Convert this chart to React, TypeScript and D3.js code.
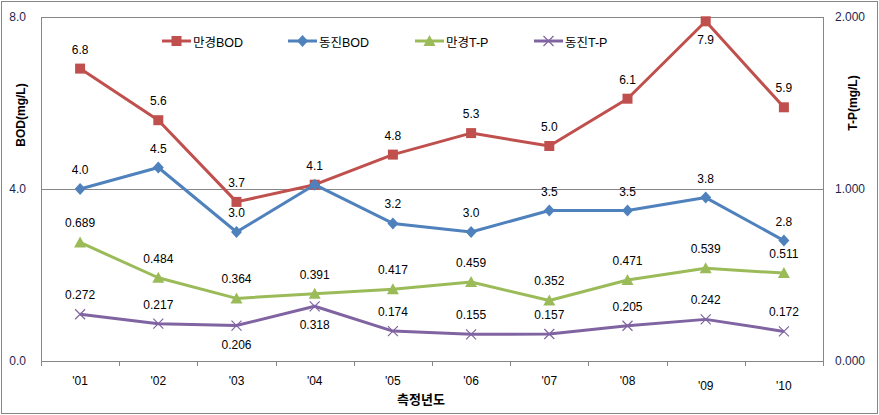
import React from "react";
import * as d3 from "d3";

const categories = ["'01", "'02", "'03", "'04", "'05", "'06", "'07", "'08", "'09", "'10"];
const mangyeongBOD = [6.8, 5.6, 3.7, 4.1, 4.8, 5.3, 5.0, 6.1, 7.9, 5.9];
const dongjinBOD = [4.0, 4.5, 3.0, 4.1, 3.2, 3.0, 3.5, 3.5, 3.8, 2.8];
const mangyeongTP = [0.689, 0.484, 0.364, 0.391, 0.417, 0.459, 0.352, 0.471, 0.539, 0.511];
const dongjinTP = [0.272, 0.217, 0.206, 0.318, 0.174, 0.155, 0.157, 0.205, 0.242, 0.172];
const leftTicks = [0, 4, 8];
const rightTicks = [0, 1, 2];
const seriesNames = ["만경BOD", "동진BOD", "만경T-P", "동진T-P"];

const W = 879;
const H = 415;
const PL = 41, PR = 823, PT = 17, PB = 361;
const FONT = "'Liberation Sans', Arial, 'Noto Sans CJK KR', sans-serif";

function Marker({ type, x, y, color }: { type: string; x: number; y: number; color: string }) {
  if (type === "square") return <rect x={x - 5} y={y - 5} width={10} height={10} fill={color} />;
  if (type === "diamond")
    return <path d={`M${x},${y - 6}L${x + 5.5},${y}L${x},${y + 6}L${x - 5.5},${y}Z`} fill={color} />;
  if (type === "triangle")
    return <path d={`M${x},${y - 6}L${x + 6},${y + 5}L${x - 6},${y + 5}Z`} fill={color} />;
  return (
    <path d={`M${x - 5},${y - 5}L${x + 5},${y + 5}M${x - 5},${y + 5}L${x + 5},${y - 5}`} stroke={color} strokeWidth={1.2} fill="none" />
  );
}

export default function App() {
  const x = d3.scaleBand<string>().domain(categories).range([PL, PR]).padding(0);
  const cx = (c: string) => (x(c) as number) + x.bandwidth() / 2;
  const yL = d3.scaleLinear().domain([0, 8]).range([PB, PT]);
  const yR = d3.scaleLinear().domain([0, 2]).range([PB, PT]);

  const series = [
    { name: seriesNames[0], data: mangyeongBOD, scale: yL, color: "#C0504D", marker: "square", fmt: d3.format(".1f"), below: [8] },
    { name: seriesNames[1], data: dongjinBOD, scale: yL, color: "#4F81BD", marker: "diamond", fmt: d3.format(".1f"), below: [] as number[] },
    { name: seriesNames[2], data: mangyeongTP, scale: yR, color: "#9BBB59", marker: "triangle", fmt: d3.format(".3f"), below: [] as number[] },
    { name: seriesNames[3], data: dongjinTP, scale: yR, color: "#8064A2", marker: "x", fmt: d3.format(".3f"), below: [2, 3] },
  ];

  const legendX = [162, 288, 415, 534];
  const boundaries = d3.range(categories.length + 1).map((i) => PL + i * x.bandwidth());

  return (
    <svg width={W} height={H} style={{ position: "absolute", left: 0, top: 0, fontFamily: FONT }}>
      <rect x={0} y={0} width={W} height={H} fill="#fff" />
      <rect x={1.5} y={1.5} width={876} height={412} fill="none" stroke="#868686" strokeWidth={1} />
      <line x1={PL} x2={PR} y1={Math.round(yL(4)) + 0.5} y2={Math.round(yL(4)) + 0.5} stroke="#868686" />
      <rect x={PL + 0.5} y={PT + 0.5} width={PR - PL} height={PB - PT} fill="none" stroke="#868686" />
      {boundaries.map((b, i) => (
        <line key={i} x1={Math.round(b) + 0.5} x2={Math.round(b) + 0.5} y1={PB} y2={PB + 5} stroke="#868686" />
      ))}
      {leftTicks.map((t) => (
        <text key={t} x={26} y={yL(t)} textAnchor="end" dominantBaseline="central" fontSize={12} fill="#1F1F4F">
          {d3.format(".1f")(t)}
        </text>
      ))}
      {rightTicks.map((t) => (
        <text key={t} x={835} y={yR(t)} textAnchor="start" dominantBaseline="central" fontSize={12} fill="#1F1F4F">
          {d3.format(".3f")(t)}
        </text>
      ))}
      <text transform={`translate(21,115) rotate(-90)`} textAnchor="middle" dominantBaseline="central" fontSize={12} fontWeight="bold">
        BOD(mg/L)
      </text>
      <text transform={`translate(853,103) rotate(-90)`} textAnchor="middle" dominantBaseline="central" fontSize={12} fontWeight="bold">
        T-P(mg/L)
      </text>
      {categories.map((c, i) => (
        <text key={c} x={cx(c)} y={i >= 8 ? 386 : 381} textAnchor="middle" dominantBaseline="central" fontSize={12} fill="#000">
          {c}
        </text>
      ))}
      <text x={421} y={399} textAnchor="middle" dominantBaseline="central" fontSize={13} fontWeight="bold">
        측정년도
      </text>
      {series.map((s) => {
        const line = d3
          .line<number>()
          .x((_, i) => cx(categories[i]))
          .y((d) => s.scale(d));
        return (
          <g key={s.name}>
            <path d={line(s.data) || ""} fill="none" stroke={s.color} strokeWidth={3} strokeLinejoin="round" />
            {s.data.map((d, i) => (
              <Marker key={i} type={s.marker} x={cx(categories[i])} y={s.scale(d)} color={s.color} />
            ))}
          </g>
        );
      })}
      {series.map((s, si) => (
        <g key={s.name + "-lbl"}>
          {s.data.map((d, i) =>
            si === 1 && i === 3 ? null : (
              <text
                key={i}
                x={cx(categories[i])}
                y={s.scale(d) + (s.below.includes(i) ? 19 : -19)}
                textAnchor="middle"
                dominantBaseline="central"
                fontSize={12}
                fill="#000"
              >
                {s.fmt(d)}
              </text>
            )
          )}
        </g>
      ))}
      {series.map((s, i) => (
        <g key={s.name + "-leg"}>
          <line x1={legendX[i]} x2={legendX[i] + 29} y1={41} y2={41} stroke={s.color} strokeWidth={3} />
          <Marker type={s.marker} x={legendX[i] + 14.5} y={41} color={s.color} />
          <text x={legendX[i] + 31} y={43} dominantBaseline="central" fontSize={12.5} fill="#000">
            {s.name}
          </text>
        </g>
      ))}
    </svg>
  );
}
